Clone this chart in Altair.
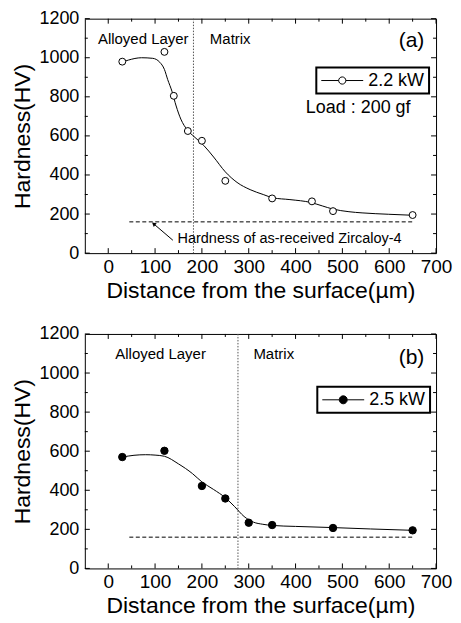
import altair as alt
import pandas as pd

# ---------------- data ----------------
# panel (a) 2.2 kW
a_x = [30, 120, 140, 170, 200, 250, 350, 435, 480, 650]
a_hv = [980, 1030, 805, 625, 575, 370, 280, 265, 215, 195]
a_curve_x = [30, 43, 71, 95, 110, 120, 127, 136, 145, 155, 169, 183, 204, 225,
             250, 275, 303, 331, 352, 388, 433, 458, 479, 514, 542, 598, 648]
a_curve_hv = [978, 988, 1000, 997, 977, 940, 888, 829, 753, 686, 630, 597, 551, 492,
              416, 362, 325, 300, 283, 274, 259, 241, 226, 212, 206, 199, 194]
# panel (b) 2.5 kW
b_x = [30, 120, 200, 250, 300, 350, 480, 650]
b_hv = [570, 602, 422, 358, 234, 222, 207, 195]
b_curve_x = [30, 55, 80, 100, 120, 150, 180, 200, 225, 250, 270, 290, 310, 330,
             350, 400, 480, 560, 650]
b_curve_hv = [570, 579, 582, 580, 574, 535, 485, 443, 404, 362, 316, 266, 237, 226,
              220, 215, 209, 202, 195]

base_hv = 160            # hardness of as-received Zircaloy-4
base_x = [45, 650]
a_boundary = 182
b_boundary = 277

x_ticks = [0, 100, 200, 300, 400, 500, 600, 700]
x_minor = [50, 150, 250, 350, 450, 550, 650]
y_ticks = [0, 200, 400, 600, 800, 1000, 1200]
y_minor = [100, 300, 500, 700, 900, 1100]

# ---------------- styling ----------------
W, H = 352, 235
FONT = "Liberation Sans"
XS = alt.Scale(domain=[-50, 700], nice=False, zero=False)
YS = alt.Scale(domain=[0, 1200], nice=False)
AX_X = alt.Axis(values=x_ticks, format="d", title="Distance from the surface(\u00b5m)",
                ticks=False, domain=False, grid=False, labelFontSize=19, titleFontSize=23,
                labelPadding=4, titlePadding=3, labelFlush=False)
AX_Y = alt.Axis(values=y_ticks, format="d", title="Hardness(HV)", ticks=False,
                domain=False, grid=False, labelFontSize=18, titleFontSize=23,
                labelPadding=6, titlePadding=4, labelFlush=False)


def X(field):
    return alt.X(field, type="quantitative", scale=XS, axis=AX_X)


def Y(field):
    return alt.Y(field, type="quantitative", scale=YS, axis=AX_Y)


def XD(v):
    return alt.XDatum(v, scale=XS, axis=AX_X)


def YD(v):
    return alt.YDatum(v, scale=YS, axis=AX_Y)


def sym_path(r):
    return (f"M-2.625,0L-{r},0M{r},0L2.625,0M{r},0A{r},{r},0,1,1,-{r},0"
            f"A{r},{r},0,1,1,{r},0Z")


def tick_layers():
    layers = []
    for vals, ln in ((x_ticks, 5), (x_minor, 3)):
        d = pd.DataFrame({"v": vals})
        layers.append(alt.Chart(d).mark_rule(color="black", strokeWidth=1).encode(
            x=X("v"), y=alt.value(H), y2=alt.value(H - ln)))
        layers.append(alt.Chart(d).mark_rule(color="black", strokeWidth=1).encode(
            x=X("v"), y=alt.value(0), y2=alt.value(ln)))
    for vals, ln in ((y_ticks, 5), (y_minor, 3)):
        d = pd.DataFrame({"v": vals})
        layers.append(alt.Chart(d).mark_rule(color="black", strokeWidth=1).encode(
            y=Y("v"), x=alt.value(0), x2=alt.value(ln)))
        layers.append(alt.Chart(d).mark_rule(color="black", strokeWidth=1).encode(
            y=Y("v"), x=alt.value(W), x2=alt.value(W - ln)))
    return layers


def text(x, y, s, size, align="left"):
    return alt.Chart(pd.DataFrame({"t": [s]})).mark_text(
        align=align, baseline="middle", fontSize=size, font=FONT, color="black"
    ).encode(x=XD(x), y=YD(y), text="t:N")


def panel(px, phv, cx, chv, boundary, series, filled, tag, tag_y,
          alloy_x, alloy_y, matrix_x, leg_x, leg_y, extra):
    pts = pd.DataFrame({"x": px, "hv": phv, "series": [series] * len(px)})
    crv = pd.DataFrame({"x": cx, "hv": chv})
    fill = "black" if filled else "white"
    r = 0.5 if filled else 0.45
    layers = tick_layers()
    layers.append(alt.Chart(pd.DataFrame({"x": [boundary]})).mark_rule(
        color="#555555", strokeWidth=1, strokeDash=[1.5, 1.5]).encode(x=X("x")))
    layers.append(alt.Chart(pd.DataFrame({"x": [base_x[0]], "x2": [base_x[1]],
                                          "hv": [base_hv]})).mark_rule(
        color="black", strokeWidth=1, strokeDash=[4, 2.5]).encode(
        x=X("x"), x2="x2:Q", y=Y("hv")))
    layers.append(alt.Chart(crv).mark_line(
        color="black", strokeWidth=1, interpolate="monotone").encode(x=X("x"), y=Y("hv")))
    layers.append(alt.Chart(pts).mark_point(
        filled=True, fill=fill, strokeWidth=1,
        size=55 if filled else 48, opacity=1).encode(
        x=X("x"), y=Y("hv"),
        stroke=alt.Stroke("series:N", scale=alt.Scale(range=["black"]), legend=alt.Legend(
            title=None, orient="none", legendX=leg_x, legendY=leg_y,
            symbolType=sym_path(r), symbolSize=256, symbolOffset=13,
            symbolFillColor=fill, symbolStrokeWidth=1,
            labelFontSize=18, labelFont=FONT, labelColor="black", labelOffset=17,
            strokeColor="black", padding=4, fillColor="white"))))
    layers.append(text(alloy_x, alloy_y, "Alloyed Layer", 15))
    layers.append(text(matrix_x, alloy_y, "Matrix", 15))
    layers.append(text(675, tag_y, tag, 21, align="right"))
    layers += extra
    return alt.layer(*layers).properties(width=W, height=H)


arrow_line = alt.Chart(pd.DataFrame({"x": [138, 97], "hv": [66, 150]})).mark_line(
    color="black", strokeWidth=1).encode(x=X("x"), y=Y("hv"))
arrow_head = alt.Chart(pd.DataFrame({"x": [97], "hv": [150]})).mark_point(
    shape="triangle-up", filled=True, color="black", size=22, angle=309, opacity=1
).encode(x=X("x"), y=Y("hv"))

extra_a = [
    text(422, 743, "Load : 200 gf", 18),
    text(148, 70, "Hardness of as-received Zircaloy-4", 14.5),
    arrow_line, arrow_head,
]

pa = panel(a_x, a_hv, a_curve_x, a_curve_hv, a_boundary, "2.2 kW", False, "(a)", 1087,
           -22, 1094, 217, 232, 49, extra_a)
pb = panel(b_x, b_hv, b_curve_x, b_curve_hv, b_boundary, "2.5 kW", True, "(b)", 1077,
           15, 1095, 310, 233, 53, [])

chart = alt.vconcat(pa, pb, spacing=21).properties(
    padding={"left": 3, "top": 0, "right": 0, "bottom": 0}).resolve_scale(
    stroke="independent").resolve_legend(stroke="independent").configure(
    font=FONT).configure_axis(
    labelColor="black", titleColor="black", titleFontWeight="normal",
    labelFont=FONT, titleFont=FONT).configure_view(stroke="black", strokeWidth=1)

try:
    c2 = chart.configure_legend(strokeWidth=2)
    c2.to_dict()
    chart = c2
except Exception:
    pass

chart.save("out.html", embed_options={"renderer": "svg", "actions": False})
